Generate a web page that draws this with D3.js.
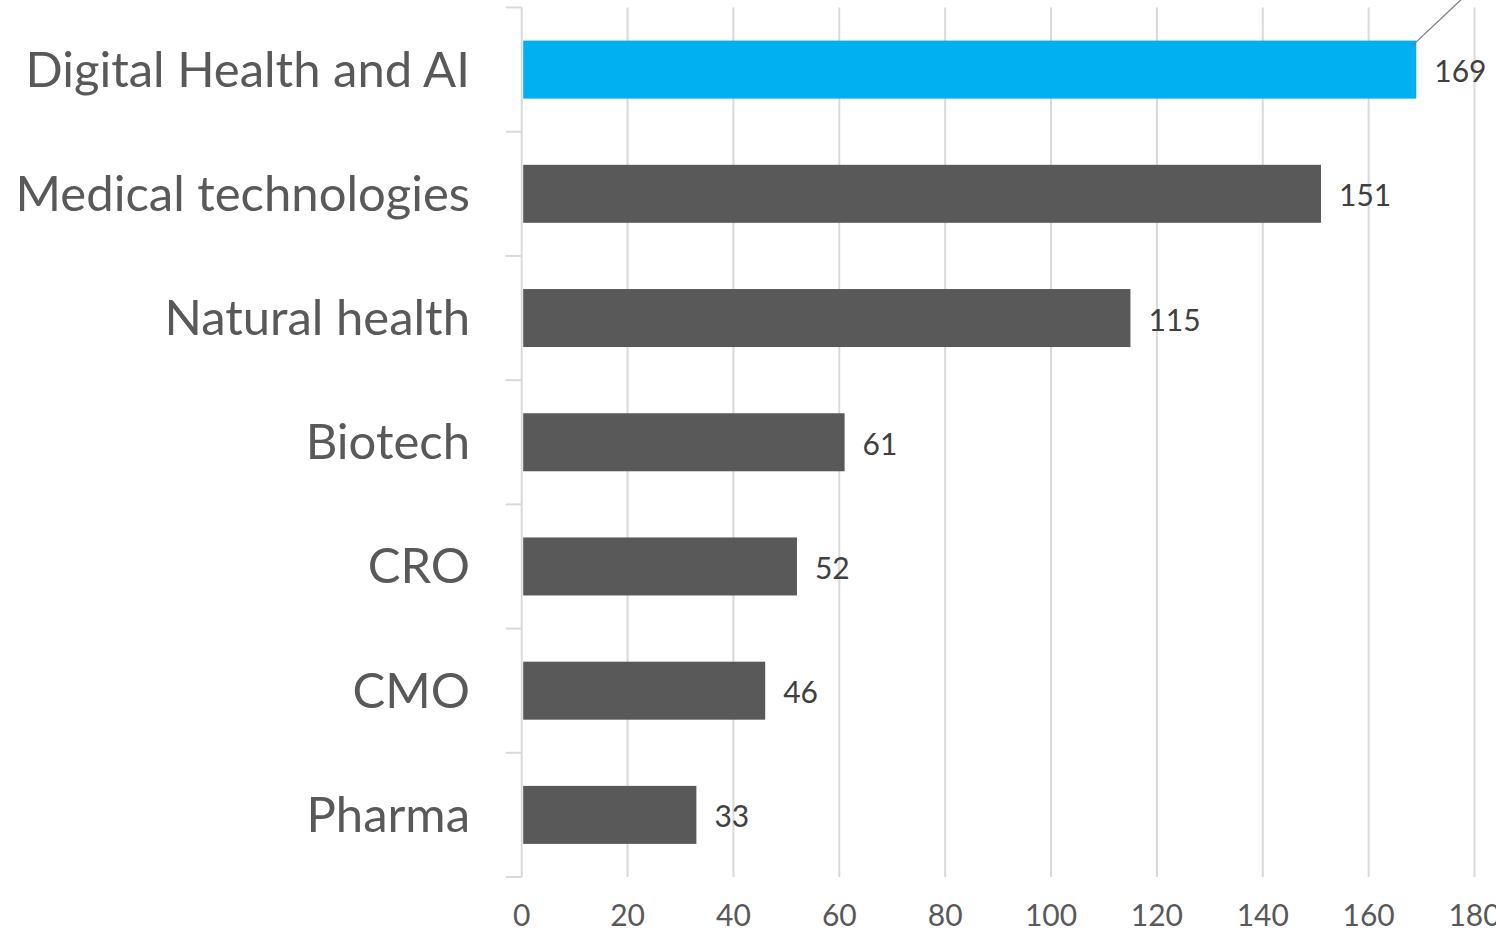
<!DOCTYPE html>
<html>
<head>
<meta charset="utf-8">
<script src="https://cdn.jsdelivr.net/npm/d3@7"></script>
<style>
  body { margin: 0; background: #fff; }
  svg { display: block; }
</style>
</head>
<body>
<div id="chart"></div>
<script>
// chart data
var categories = ["Digital Health and AI", "Medical technologies", "Natural health", "Biotech", "CRO", "CMO", "Pharma"];
var values = [169, 151, 115, 61, 52, 46, 33];
var highlight = "Digital Health and AI";
var xTicks = [0, 20, 40, 60, 80, 100, 120, 140, 160, 180];

var W = 1496, H = 933;
var margin = {top: 7.5, bottom: 56, left: 521.7, right: 21.5};

var data = categories.map(function(c, i){ return {name: c, value: values[i]}; });

var svg = d3.select("#chart").append("svg")
    .attr("width", W)
    .attr("height", H);

var x = d3.scaleLinear()
    .domain([0, 180])
    .range([margin.left, W - margin.right]);

var y = d3.scaleBand()
    .domain(categories)
    .range([margin.top, H - margin.bottom])
    .paddingInner(0.533)
    .paddingOuter(0.2665);

var gridCol = "#d9d9d9";
var yTop = margin.top, yBot = H - margin.bottom;

// vertical gridlines
svg.append("g")
    .selectAll("line")
    .data(xTicks.slice(1))
    .enter().append("line")
    .attr("x1", function(d){ return x(d); })
    .attr("x2", function(d){ return x(d); })
    .attr("y1", yTop)
    .attr("y2", yBot)
    .attr("stroke", gridCol)
    .attr("stroke-width", 2);

// left axis line + category separators
var seps = d3.range(categories.length + 1).map(function(i){ return yTop + i * (yBot - yTop) / categories.length; });
svg.append("line")
    .attr("x1", x(0)).attr("x2", x(0))
    .attr("y1", yTop).attr("y2", yBot)
    .attr("stroke", gridCol).attr("stroke-width", 2);
svg.append("g")
    .selectAll("line")
    .data(seps)
    .enter().append("line")
    .attr("x1", x(0) - 16)
    .attr("x2", x(0))
    .attr("y1", function(d){ return d; })
    .attr("y2", function(d){ return d; })
    .attr("stroke", gridCol)
    .attr("stroke-width", 2);

// bars
svg.append("g")
    .selectAll("rect")
    .data(data)
    .enter().append("rect")
    .attr("x", x(0) + 1.5)
    .attr("y", function(d){ return y(d.name); })
    .attr("width", function(d){ return x(d.value) - x(0) - 1.5; })
    .attr("height", y.bandwidth())
    .attr("fill", function(d){ return d.name == highlight ? "#00b0f0" : "#595959"; });

// leader line off the highlighted label
var first = data[0];
svg.append("line")
    .attr("x1", x(first.value) - 5)
    .attr("y1", y(first.name) + 6)
    .attr("x2", x(first.value) - 5 + 52)
    .attr("y2", y(first.name) + 6 - 49)
    .attr("stroke", "#7f7f7f")
    .attr("stroke-width", 1.3);

// value labels
svg.append("g")
    .selectAll("text")
    .data(data)
    .enter().append("text")
    .attr("x", function(d){ return x(d.value) + 18; })
    .attr("y", function(d){ return y(d.name) + y.bandwidth() / 2 + 12.5; })
    .attr("font-family", "Lato, 'Open Sans', sans-serif")
    .attr("font-size", 30)
    .attr("fill", "#404040")
    .text(function(d){ return d.value; });

// category labels
svg.append("g")
    .selectAll("text")
    .data(data)
    .enter().append("text")
    .attr("x", 470)
    .attr("y", function(d){ return y(d.name) + y.bandwidth() / 2 + 17; })
    .attr("text-anchor", "end")
    .attr("font-family", "Lato, 'Open Sans', sans-serif")
    .attr("font-size", 49)
    .attr("fill", "#595959")
    .text(function(d){ return d.name; });

// x tick labels
svg.append("g")
    .selectAll("text")
    .data(xTicks)
    .enter().append("text")
    .attr("x", function(d){ return x(d); })
    .attr("y", 926)
    .attr("text-anchor", "middle")
    .attr("font-family", "Lato, 'Open Sans', sans-serif")
    .attr("font-size", 30)
    .attr("fill", "#595959")
    .text(function(d){ return d; });
</script>
</body>
</html>
